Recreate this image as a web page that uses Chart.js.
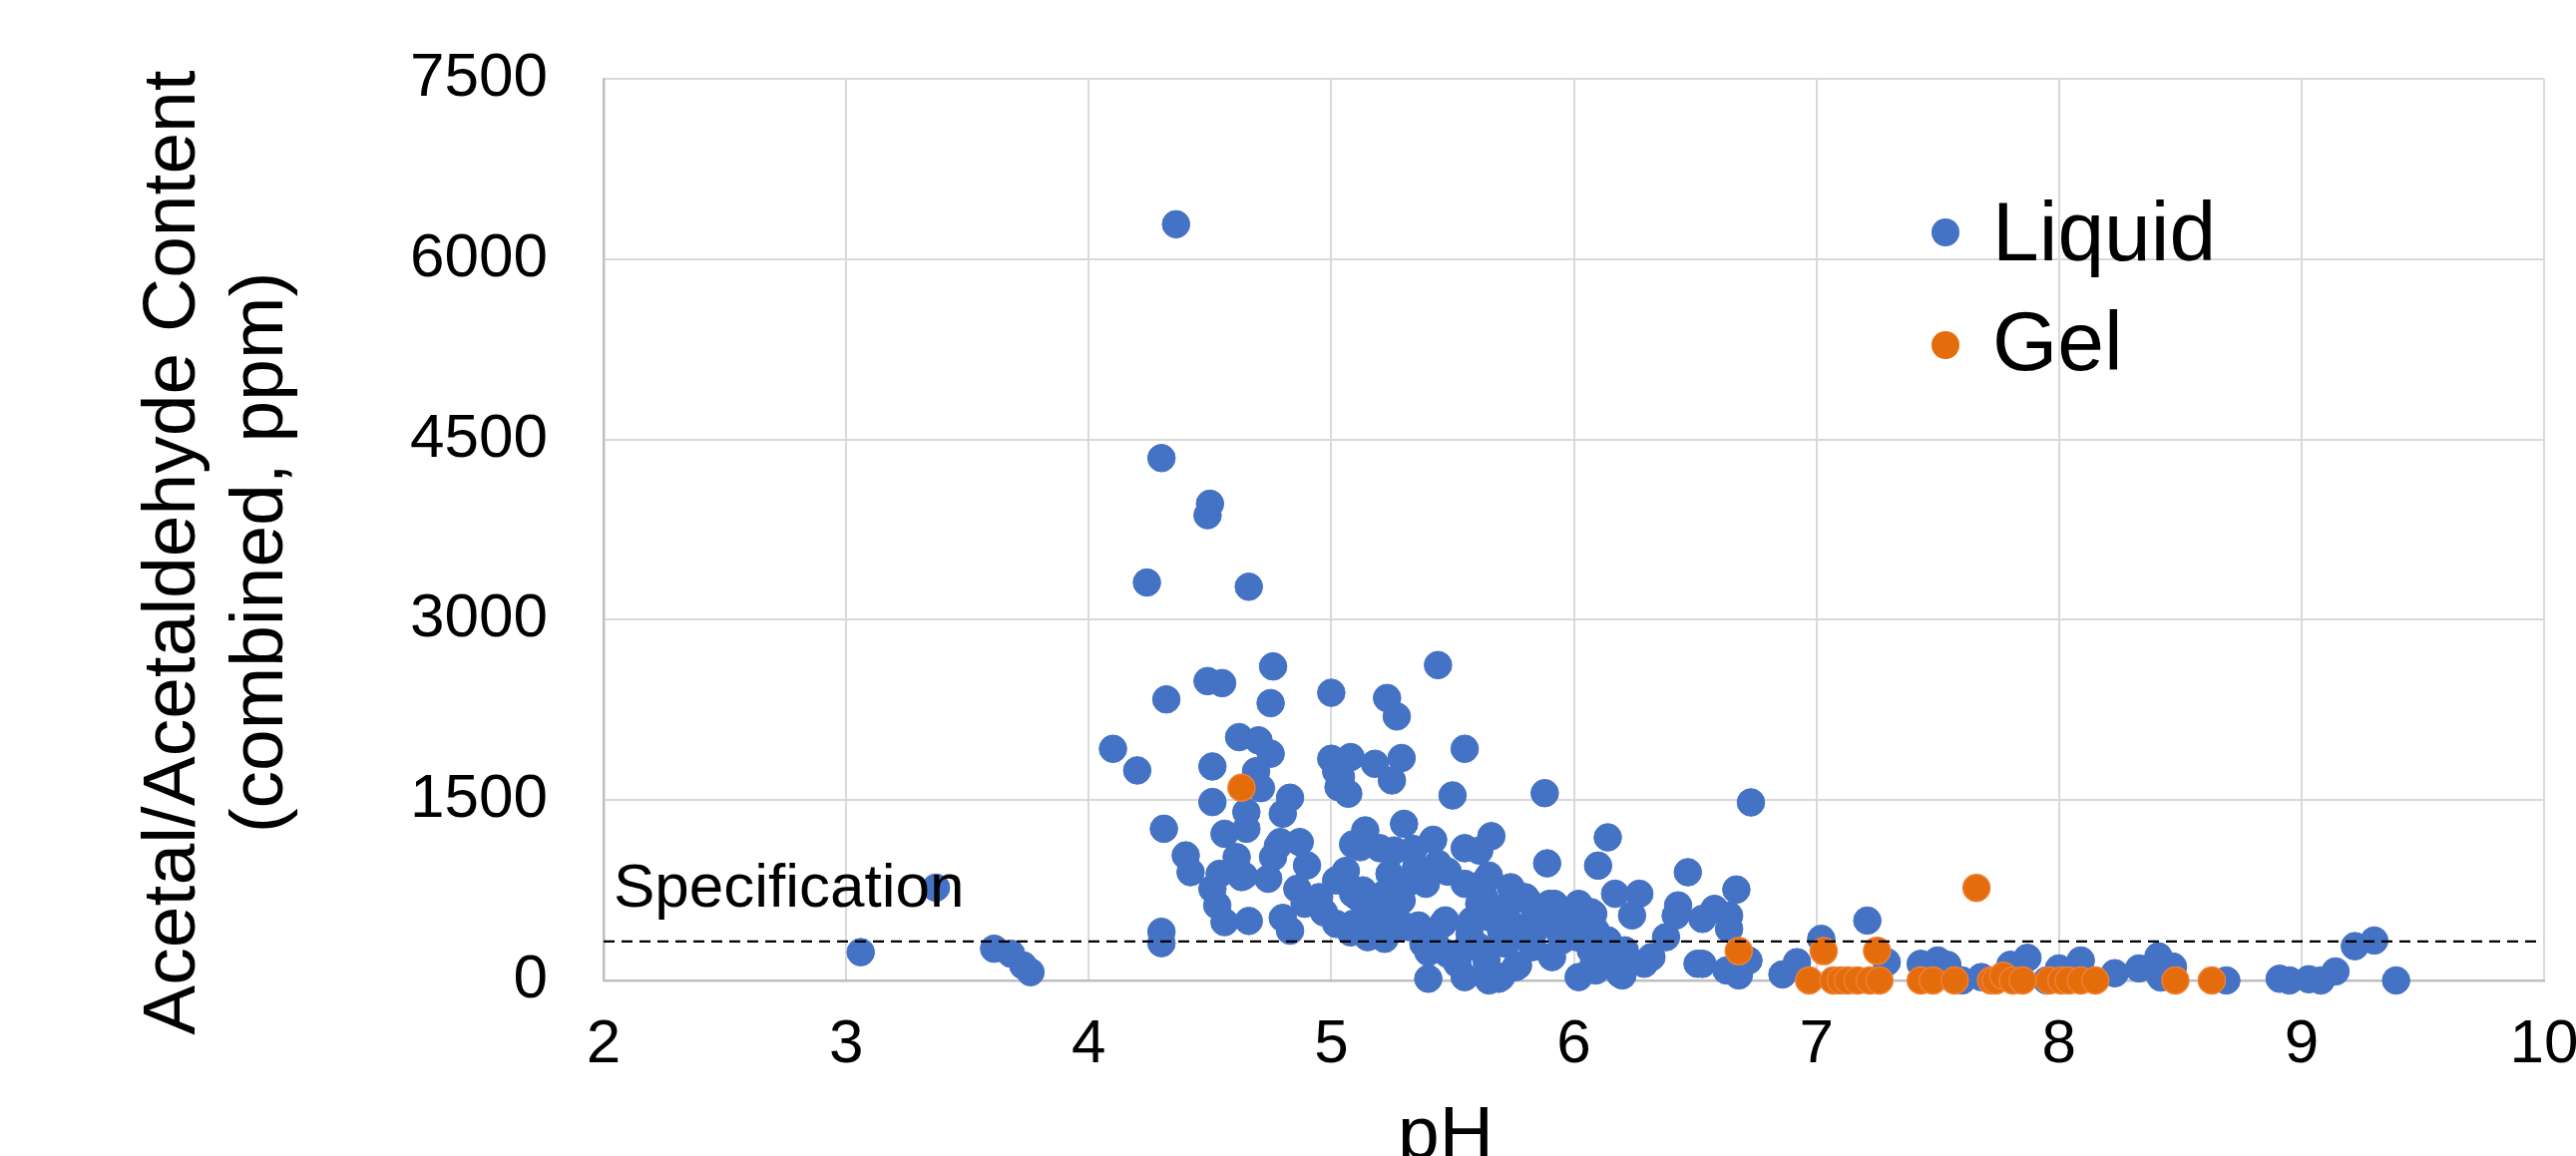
<!DOCTYPE html>
<html><head><meta charset="utf-8">
<script src="https://cdn.jsdelivr.net/npm/chart.js@4/dist/chart.umd.min.js"></script>
<style>html,body{margin:0;padding:0;background:#fff;} canvas{display:block;}</style>
</head><body>
<canvas id="c" width="2582" height="1159" style="width:2582px;height:1159px"></canvas>
<script>
const xTicks = [2, 3, 4, 5, 6, 7, 8, 9, 10];
const yTicks = [0, 1500, 3000, 4500, 6000, 7500];
const seriesNames = ['Liquid', 'Gel'];
const xTitle = 'pH';
const yTitle = ['Acetal/Acetaldehyde Content', '(combined, ppm)'];
const specLabel = 'Specification';
const specPH = [2, 9.97];
const specPPM = [325, 325];

const liquidPH = [3.06,3.37,3.61,3.68,3.73,3.76,4.10,4.20,4.24,4.30,4.36,4.32,4.31,4.30,4.30,4.40,4.42,4.49,4.50,4.49,
4.55,4.51,4.51,4.56,4.54,4.51,4.53,4.56,4.62,4.66,4.76,4.75,4.70,4.75,4.69,4.71,4.83,4.80,4.65,4.65,
4.61,4.64,4.66,4.63,4.74,4.76,4.78,4.79,4.87,4.90,4.86,4.89,4.95,4.97,4.80,4.83,5.00,5.23,5.27,5.44,
5.55,5.00,5.02,5.08,5.18,5.29,5.04,5.03,5.07,5.25,5.50,5.88,5.14,5.30,5.66,6.14,5.42,5.12,5.20,5.26,
5.34,5.55,5.61,5.09,5.06,5.48,5.89,6.10,6.47,6.67,6.73,5.31,5.26,5.11,5.16,5.09,5.22,5.29,5.22,5.28,
5.36,5.46,5.09,5.15,5.22,5.08,5.47,5.58,5.63,5.65,5.74,5.80,5.92,6.02,6.08,5.61,5.65,5.72,5.74,5.81,
6.07,6.17,6.27,6.24,6.43,6.42,6.53,6.58,6.64,6.64,6.38,6.09,5.38,5.48,5.56,5.40,5.70,5.76,5.83,5.76,
5.91,6.07,5.77,5.40,5.55,5.65,5.69,6.02,6.08,6.19,6.29,6.51,6.15,6.63,6.68,6.72,6.86,6.92,7.02,7.21,
7.29,7.43,7.50,7.54,7.60,7.68,7.80,7.87,7.95,8.00,8.09,8.23,8.33,8.41,8.47,8.42,8.69,8.91,8.95,9.03,
9.08,9.14,9.22,9.30,9.39,5.02,5.13,5.24,5.35,5.39,5.26,5.18,5.02,5.32,5.44,5.55,5.63,5.69,5.75,5.83,
5.93,5.99,6.14,6.21,6.32,5.64,5.52,5.43,5.57,5.72,5.83,5.95,6.01,6.07,6.14,6.09,5.79,5.84,5.90,6.04,
6.09,5.89,5.95,6.20,6.53,5.70,5.61];
const liquidPPM = [235,772,264,222,125,69,1927,1747,3310,4345,6290,2338,1262,405,310,1040,901,3870,3965,2490,
2473,1780,1484,1220,887,762,624,485,2024,3275,2612,2307,1997,1886,1740,1600,1520,1387,1400,1262,
1026,870,495,860,846,1026,1120,1151,1151,957,762,638,693,566,520,414,2393,2349,2196,2623,
1927,1844,1740,1858,1802,1850,1692,1608,1553,1664,1539,1558,1248,1303,1200,1190,1170,1109,1100,1081,
1093,1100,1080,1132,911,905,974,955,900,756,1481,803,692,692,581,721,721,665,471,443,
457,471,471,360,346,400,499,499,817,872,775,692,637,637,554,637,526,554,665,665,
568,721,721,541,624,540,512,595,540,429,360,388,304,221,277,236,415,443,388,111,
194,360,125,14,28,0,14,28,120,55,139,139,221,83,42,166,50,152,346,498,
152,138,166,130,0,28,130,188,0,100,166,60,100,200,115,25,0,14,0,10,
0,75,285,332,0,832,749,887,943,804,555,582,471,444,971,804,693,541,416,485,
527,444,333,250,194,166,139,305,388,305,277,333,360,249,166,83,692,581,637,526,
415,470,415,42,138,28,277];

const gelPH = [4.63,6.68,7.03,7.25,7.66,6.97,7.07,7.10,7.13,7.17,7.22,7.26,7.43,7.48,7.57,7.72,7.74,7.77,7.81,7.85,7.96,8.01,8.04,8.09,8.15,8.48,8.63];
const gelPPM = [1603,244,244,246,770,0,0,0,0,0,0,0,0,0,0,0,0,39,0,0,0,0,0,0,0,0,0];

const BLUE = '#4472C4';
const ORANGE = '#E46C0A';
const FONT = '"Liberation Sans", Arial, Helvetica, sans-serif';

const toPts = (xs, ys) => xs.map((v, i) => ({x: v, y: ys[i]}));

const textPlugin = {
  id: 'texts',
  afterDatasetsDraw(chart) {
    const ctx = chart.ctx;
    const xs = chart.scales.x, ys = chart.scales.y;
    ctx.save();
    ctx.fillStyle = '#000';
    // Specification label
    ctx.font = '62px ' + FONT;
    ctx.textAlign = 'left';
    ctx.textBaseline = 'alphabetic';
    ctx.fillText(specLabel, xs.getPixelForValue(2) + 10, ys.getPixelForValue(specPPM[0]) - 35);
    // Legend
    const items = [[seriesNames[0], BLUE, 233, 261], [seriesNames[1], ORANGE, 346, 371]];
    ctx.font = '84px ' + FONT;
    items.forEach(([t, c, cy, by]) => {
      ctx.beginPath();
      ctx.arc(1950, cy, 14, 0, Math.PI * 2);
      ctx.fillStyle = c;
      ctx.fill();
      ctx.fillStyle = '#000';
      ctx.fillText(t, 1997, by);
    });
    // Y title
    ctx.font = '75px ' + FONT;
    ctx.save();
    ctx.translate(195, 554);
    ctx.rotate(-Math.PI / 2);
    ctx.textAlign = 'center';
    ctx.fillText(yTitle[0], 0, 0);
    ctx.fillText(yTitle[1], 0, 88);
    ctx.restore();
    // X title
    ctx.textAlign = 'center';
    ctx.fillText(xTitle, 1449, 1161);
    ctx.restore();
  }
};

new Chart(document.getElementById('c'), {
  type: 'scatter',
  data: {
    datasets: [
      {
        type: 'line', label: 'spec', data: toPts(specPH, specPPM),
        borderColor: '#000', borderWidth: 2.4, borderDash: [11, 7],
        pointRadius: 0, fill: false, order: 0
      },
      {
        label: seriesNames[0], data: toPts(liquidPH, liquidPPM),
        backgroundColor: BLUE, borderColor: BLUE, borderWidth: 1,
        pointRadius: 13.8, order: 2
      },
      {
        label: seriesNames[1], data: toPts(gelPH, gelPPM),
        backgroundColor: ORANGE, borderColor: '#EE8138', borderWidth: 1.5,
        pointRadius: 13.5, order: 1
      }
    ]
  },
  options: {
    responsive: false,
    animation: false,
    devicePixelRatio: 1,
    clip: false,
    layout: { padding: { top: 79, right: 32, bottom: 0, left: 0 } },
    plugins: { legend: { display: false }, tooltip: { enabled: false } },
    scales: {
      x: {
        type: 'linear', min: 2, max: 10,
        afterBuildTicks: s => { s.ticks = xTicks.map(v => ({value: v})); },
        afterFit: s => { s.height = 176; s.paddingLeft = 0; s.paddingRight = 0; },
        grid: { color: '#d9d9d9', lineWidth: 2, drawTicks: false },
        border: { color: '#bfbfbf', width: 2.5 },
        ticks: { color: '#000', font: { size: 62, family: FONT }, padding: 28, maxRotation: 0, autoSkip: false,
                 callback: v => String(v) }
      },
      y: {
        type: 'linear', min: 0, max: 7500,
        afterBuildTicks: s => { s.ticks = yTicks.map(v => ({value: v})); },
        afterFit: s => { s.width = 605; s.paddingTop = 0; s.paddingBottom = 0; },
        grid: { color: '#d9d9d9', lineWidth: 2, drawTicks: false },
        border: { color: '#bfbfbf', width: 2.5 },
        ticks: { color: '#000', font: { size: 62, family: FONT }, padding: 56, autoSkip: false,
                 callback: v => String(v) }
      }
    }
  },
  plugins: [textPlugin]
});
</script>
</body></html>
